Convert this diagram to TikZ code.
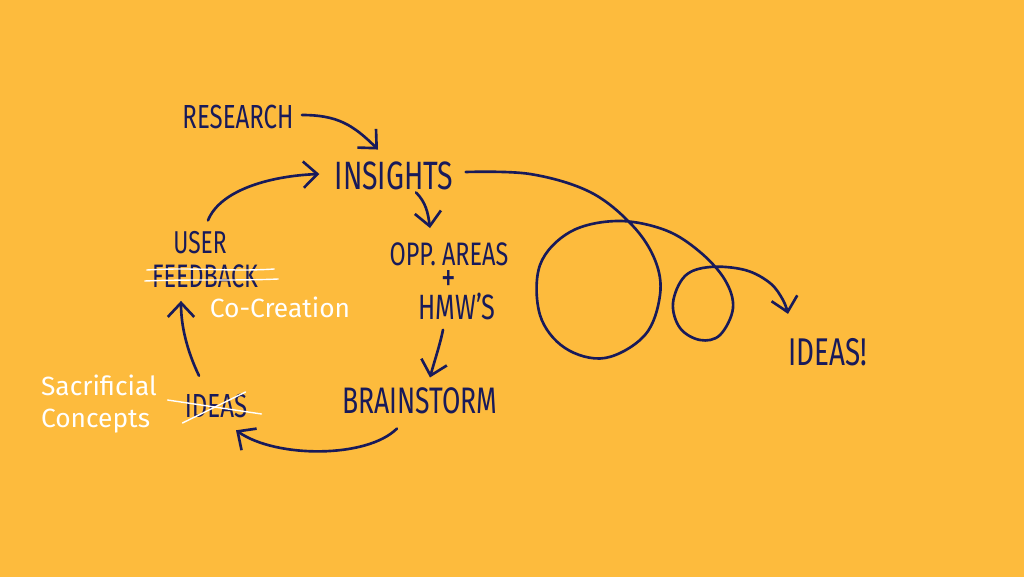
\documentclass[tikz,border=0pt]{standalone}
\usepackage{fontspec}
\setmainfont{Fira Sans}[FakeStretch=0.72]
\newfontfamily\handfont{Fira Sans}
\usetikzlibrary{arrows.meta}
\definecolor{marigold}{RGB}{253,187,61}
\definecolor{ink}{RGB}{24,26,90}
\tikzset{
  pen/.style={ink, line width=1.5pt, line cap=round, line join=round,
    -{Straight Barb[length=8pt,width=15pt,line width=1.5pt]}},
  caps/.style={ink, inner sep=0pt},
  chalk/.style={white, inner sep=0pt, align=left,
    font=\handfont\fontsize{15}{18}\selectfont},
  strike/.style={white, line width=0.8pt, line cap=round},
}
\begin{document}
\begin{tikzpicture}[x=0.02cm, y=-0.02cm]
% Background
\fill[marigold] (0,0) rectangle (1024,577);
\useasboundingbox (0,0) rectangle (1024,577);
% Cycle steps
\node[caps, font=\fontsize{19}{22}\selectfont] (research) at (238,117) {RESEARCH};
\node[caps, font=\fontsize{22.5}{26}\selectfont] (insights) at (394,176) {INSIGHTS};
\node[caps, font=\fontsize{18.5}{22}\selectfont] (opp) at (449,254) {OPP. AREAS};
\node[caps, font=\fontsize{23}{26}\selectfont] (plus) at (449,281) {+};
\node[caps, font=\fontsize{20}{24}\selectfont] (hmw) at (457,306) {HMW'S};
\node[caps, font=\fontsize{21}{24}\selectfont] (brainstorm) at (420,401) {BRAINSTORM};
\node[caps, font=\fontsize{19}{22}\selectfont] (ideas) at (216,406) {IDEAS};
\node[caps, font=\fontsize{18}{21}\selectfont] (user) at (200,243) {USER};
\node[caps, font=\fontsize{18.5}{22}\selectfont] (feedback) at (205,276) {FEEDBACK};
\node[caps, font=\fontsize{22}{26}\selectfont] (ideasout) at (828,352) {IDEAS!};
% White notes
\node[chalk] (sacrificial) at (99,404) {Sacrificial\\Concepts};
\node[chalk] (cocreation) at (280,307) {Co-Creation};
% Crossed out words
\draw[strike] ([shift={(-5,-6)}]feedback.west) .. controls +(50,-3) and +(-45,3) .. ([shift={(16,-7)}]feedback.east);
\draw[strike] ([shift={(-7,5)}]feedback.west) .. controls +(50,-2) and +(-45,2) .. ([shift={(20,3)}]feedback.east);
\draw[strike] ([shift={(-17,-6)}]ideas.west) -- ([shift={(14,8)}]ideas.east);
\draw[strike] ([shift={(-2,17)}]ideas.west) -- ([shift={(-2,-14)}]ideas.east);
% Arrows round the cycle
\draw[pen] ([shift={(8,-2)}]research.east) .. controls +(35,0) and +(-25,-25) .. ([shift={(-16,-12)}]insights.north);
\draw[pen] ([shift={(22,2)}]insights.south) .. controls +(10,10) and +(-2,-15) .. ([shift={(-19,-14)}]opp.north);
\draw[pen] ([shift={(-14,10)}]hmw.south) .. controls +(-3,15) and +(4,-15) .. ([shift={(10,-10)}]brainstorm.north);
\draw[pen] ([shift={(-23,14)}]brainstorm.south) .. controls +(-30,30) and +(40,28) .. ([shift={(20,12)}]ideas.south);
\draw[pen] ([shift={(-17,-18)}]ideas.north) .. controls +(-12,-25) and +(0,25) .. ([shift={(-24,13)}]feedback.south);
\draw[pen] ([shift={(8,-11)}]user.north) .. controls +(12,-30) and +(-50,2) .. ([shift={(-15,-2)}]insights.west);
% Loop out to ideas
\draw[pen] plot[smooth, tension=0.6] coordinates {([shift={(12,-4)}]insights.east) (530,174) (590,192) (632,225) (655,260) (660,295) (645,335) (605,358) (565,348) (540,315) (540,265) (570,232) (617,221) (665,230) (700,252) (725,280) (733,308) (720,335) (700,340) (680,328) (673,303) (685,276) (710,267) (745,270) (770,283) (783,300) ([shift={(-40,-24)}]ideasout.north)};
\end{tikzpicture}
\end{document}
